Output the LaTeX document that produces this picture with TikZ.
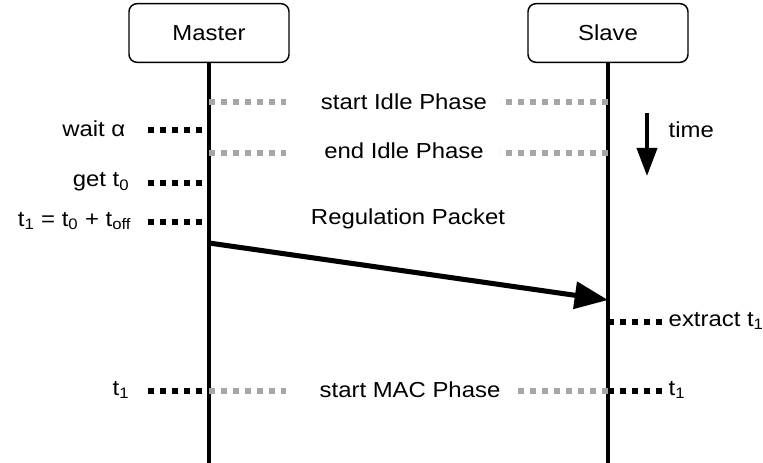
\documentclass[tikz,border=0pt]{standalone}
\usepackage{fontspec}
\setmainfont{Liberation Sans}[FakeStretch = 1.1]
\usetikzlibrary{arrows.meta}

\begin{document}
\begin{tikzpicture}[
    x = 0.75pt, y = -0.75pt,
    every node/.style = {font = \fontsize{16.3}{19}\selectfont},
    party/.style = {
      rectangle, draw = black, line width = 1.1pt, rounded corners = 6pt,
      minimum width = 120pt, minimum height = 44pt,
    },
    life/.style = {line width = 3.5pt},
    tick/.style = {line width = 3.9pt, dash pattern = on 4.6pt off 4.4pt},
    idle/.style = {tick, black!35},
  ]
  \useasboundingbox (0,0) rectangle (763,463);

  % parties and their life lines
  \node[party] (master) at (209,33) {Master};
  \node[party] (slave) at (608,33) {Slave};
  \coordinate (mend) at (209,463);
  \coordinate (send) at (608,463);
  \draw[life] (master) -- (mend);
  \draw[life] (slave) -- (send);

  % idle phase
  \coordinate (mi1) at (209,102);
  \coordinate (si1) at (608,102);
  \coordinate (mi2) at (209,153);
  \coordinate (si2) at (608,153);
  \node (idle1) at (404,102) {start Idle Phase};
  \node (idle2) at (404,151) {end Idle Phase};
  \draw[idle] (mi1) -- (286,102);
  \draw[idle] (si1) -- (500,102);
  \draw[idle] (mi2) -- (286,153);
  \draw[idle] (si2) -- (500,153);

  % master steps
  \coordinate (mwait) at (209,130);
  \coordinate (mget) at (209,183);
  \coordinate (mset) at (209,222);
  \node[anchor = east] (wait) at (130,129) {wait α};
  \node[anchor = east] (get) at (134,182) {get t\textsubscript{0}};
  \node[anchor = east] (set) at (136,221)
    {t\textsubscript{1} = t\textsubscript{0} + t\textsubscript{off}};
  \draw[tick] (148,130) -- (mwait);
  \draw[tick] (148,183) -- (mget);
  \draw[tick] (148,222) -- (mset);

  % regulation packet
  \coordinate (msend) at (209,243);
  \coordinate (srecv) at (608,300);
  \node (reg) at (408,219) {Regulation Packet};
  \draw[line width = 3.8pt, -{Triangle[length = 25pt, width = 20pt]}]
    (msend) -- (srecv);

  % slave step
  \coordinate (sext) at (608,322);
  \node[anchor = west] (extract) at (664,321) {extract t\textsubscript{1}};
  \draw[tick] (sext) -- (662,322);

  % MAC phase
  \coordinate (mmac) at (209,391);
  \coordinate (smac) at (608,391);
  \node (mac) at (410,390) {start MAC Phase};
  \node[anchor = east] (mt) at (134,390) {t\textsubscript{1}};
  \node[anchor = west] (st) at (664,390) {t\textsubscript{1}};
  \draw[tick] (148,391) -- (mmac);
  \draw[idle] (mmac) -- (286,391);
  \draw[idle] (smac) -- (515,391);
  \draw[tick] (smac) -- (662,391);

  % time
  \coordinate (tbeg) at (647,113);
  \coordinate (tend) at (647,176);
  \draw[line width = 3pt, -{Triangle[length = 21pt, width = 15pt]}]
    (tbeg) -- (tend);
  \node[anchor = west] (time) at (664,130) {time};
\end{tikzpicture}
\end{document}
